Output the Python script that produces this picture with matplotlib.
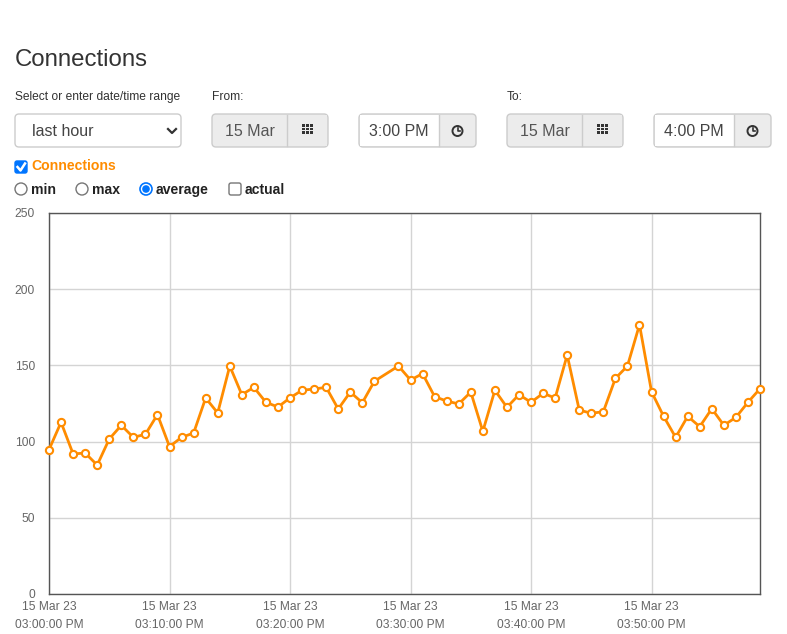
import matplotlib
matplotlib.use("Agg")
import matplotlib.pyplot as plt
from matplotlib.patches import FancyBboxPatch, Rectangle, Circle

plt.rcParams['font.family'] = ['Liberation Sans', 'DejaVu Sans']

# average connections per minute (minute 28 has no sample)
minutes = list(range(0, 28)) + list(range(29, 60))
connections_avg = [
    94.7, 112.7, 91.9, 92.5, 84.6, 101.7, 110.7, 102.8, 104.8, 117.7,
    96.7, 102.8, 105.6, 128.6, 118.8, 149.6, 130.8, 135.6, 125.8, 122.7,
    128.7, 133.7, 134.5, 135.6, 121.4, 132.5, 125.5, 139.6,
    149.6, 140.4, 144.6, 129.5, 126.6, 124.7, 132.5, 106.7, 133.7, 122.5,
    130.8, 125.8, 131.7, 128.6, 156.8, 120.7, 118.6, 119.6, 141.5, 149.6,
    176.7, 132.7, 116.6, 102.8, 116.6, 109.8, 121.6, 110.7, 115.9, 125.8,
    134.7,
]
y_ticks = [0, 50, 100, 150, 200, 250]
x_tick_minutes = [0, 10, 20, 30, 40, 50]
x_tick_dates = ['15 Mar 23'] * 6
x_tick_times = ['03:00:00 PM', '03:10:00 PM', '03:20:00 PM',
                '03:30:00 PM', '03:40:00 PM', '03:50:00 PM']

W, H = 787, 634
fig = plt.figure(figsize=(W / 100, H / 100), dpi=100)

# page layer in pixel coordinates
ui = fig.add_axes([0, 0, 1, 1])
ui.set_xlim(0, W)
ui.set_ylim(H, 0)
ui.axis('off')

def px(size):
    return size * 72 / 100

def box(x0, y0, x1, y1, fc, ec='#cccccc', r=4):
    ui.add_patch(FancyBboxPatch((x0, y0), x1 - x0, y1 - y0,
                                boxstyle=f'round,pad=0,rounding_size={r}',
                                fc=fc, ec=ec, lw=1))

def grid_icon(cx, cy):
    for i in range(3):
        for j in range(3):
            ui.add_patch(Rectangle((cx - 6 + i * 4.2, cy - 5 + j * 3.6), 3.4, 2.8,
                                   fc='#333333', ec='none', zorder=4))

def clock_icon(cx, cy):
    ui.add_patch(Circle((cx, cy), 5, fc='none', ec='#333333', lw=1.4, zorder=4))
    ui.plot([cx, cx, cx + 2.5], [cy - 3, cy, cy], color='#333333', lw=1.2, zorder=4)

ui.text(15, 60, 'Connections', fontsize=px(24), color='#333333', va='center')

ui.text(15, 97, 'Select or enter date/time range', fontsize=px(12), color='#333333', va='center')
ui.text(212, 97, 'From:', fontsize=px(12), color='#333333', va='center')
ui.text(507, 97, 'To:', fontsize=px(12), color='#333333', va='center')

# select box
box(15, 114, 181, 147, 'white')
ui.text(32, 131, 'last hour', fontsize=px(16), color='#444444', va='center')
ui.plot([168, 172, 176], [129, 133, 129], color='#333333', lw=1.6)

def date_group(x0, x1, xdiv, label):
    box(x0, 114, x1, 147, '#ececec')
    ui.text(x0 + 13, 131, label, fontsize=px(16), color='#555555', va='center', zorder=2)
    # the input is narrower than its text: hide the overflow
    ui.add_patch(Rectangle((xdiv - 10, 115), x1 - xdiv + 9, 31,
                           fc='#ececec', ec='none', zorder=3))
    ui.plot([xdiv, xdiv], [115, 146], color='#cccccc', lw=1, zorder=4)
    grid_icon((xdiv + x1) / 2, 129)

def time_group(x0, x1, xdiv, label):
    box(x0, 114, x1, 147, '#ececec')
    ui.add_patch(Rectangle((x0 + 1, 115), xdiv - x0 - 1, 31, fc='white', ec='none'))
    ui.plot([xdiv, xdiv], [115, 146], color='#cccccc', lw=1)
    ui.text((x0 + xdiv) / 2, 131, label, fontsize=px(16), color='#444444',
            va='center', ha='center')
    clock_icon((xdiv + x1) / 2, 131)

date_group(212, 328, 287, '15 Mar 2023')
time_group(359, 476, 439, '3:00 PM')
date_group(507, 623, 582, '15 Mar 2023')
time_group(654, 771, 734, '4:00 PM')

# series checkbox
box(15, 161, 27, 173, '#0075ff', ec='#0075ff', r=2)
ui.plot([17.5, 20.5, 25], [167, 170.5, 163.5], color='white', lw=1.8)
ui.text(31, 166, 'Connections', fontsize=px(14), color='#ff8c00',
        fontweight='bold', va='center')

def radio(x, label, on=False):
    if on:
        ui.add_patch(Circle((x + 6, 189), 6, fc='white', ec='#0075ff', lw=1.2))
        ui.add_patch(Circle((x + 6, 189), 3.8, fc='#0075ff', ec='none'))
    else:
        ui.add_patch(Circle((x + 6, 189), 6, fc='white', ec='#767676', lw=1))
    ui.text(x + 16, 190, label, fontsize=px(14), color='#222222',
            fontweight='bold', va='center')

radio(15, 'min')
radio(76, 'max')
radio(140, 'average', on=True)
box(229, 183, 241, 195, 'white', ec='#767676', r=2)
ui.text(245, 190, 'actual', fontsize=px(14), color='#222222',
        fontweight='bold', va='center')

# chart
ax = fig.add_axes([49 / W, (H - 594) / H, 711 / W, 381 / H])
ax.plot(minutes, connections_avg, color='#ff8c00', lw=2,
        marker='o', markersize=5.2, markerfacecolor='white',
        markeredgecolor='#ff8c00', markeredgewidth=1.5, clip_on=False, zorder=3)

ax.set_xlim(0, 59)
ax.set_ylim(0, 250)
ax.set_yticks(y_ticks)
ax.set_xticks(x_tick_minutes)
ax.set_xticklabels([f'{d}\n{t}' for d, t in zip(x_tick_dates, x_tick_times)],
                   linespacing=1.7)
ax.grid(True, color='#d4d4d4', lw=1)
ax.set_axisbelow(True)
ax.tick_params(length=0, labelsize=px(12), labelcolor='#666666')
ax.tick_params(axis='y', pad=10)
ax.tick_params(axis='x', pad=5)
for s in ax.spines.values():
    s.set_color('#555555')
    s.set_linewidth(1)

fig.savefig('out.png', dpi=100)
